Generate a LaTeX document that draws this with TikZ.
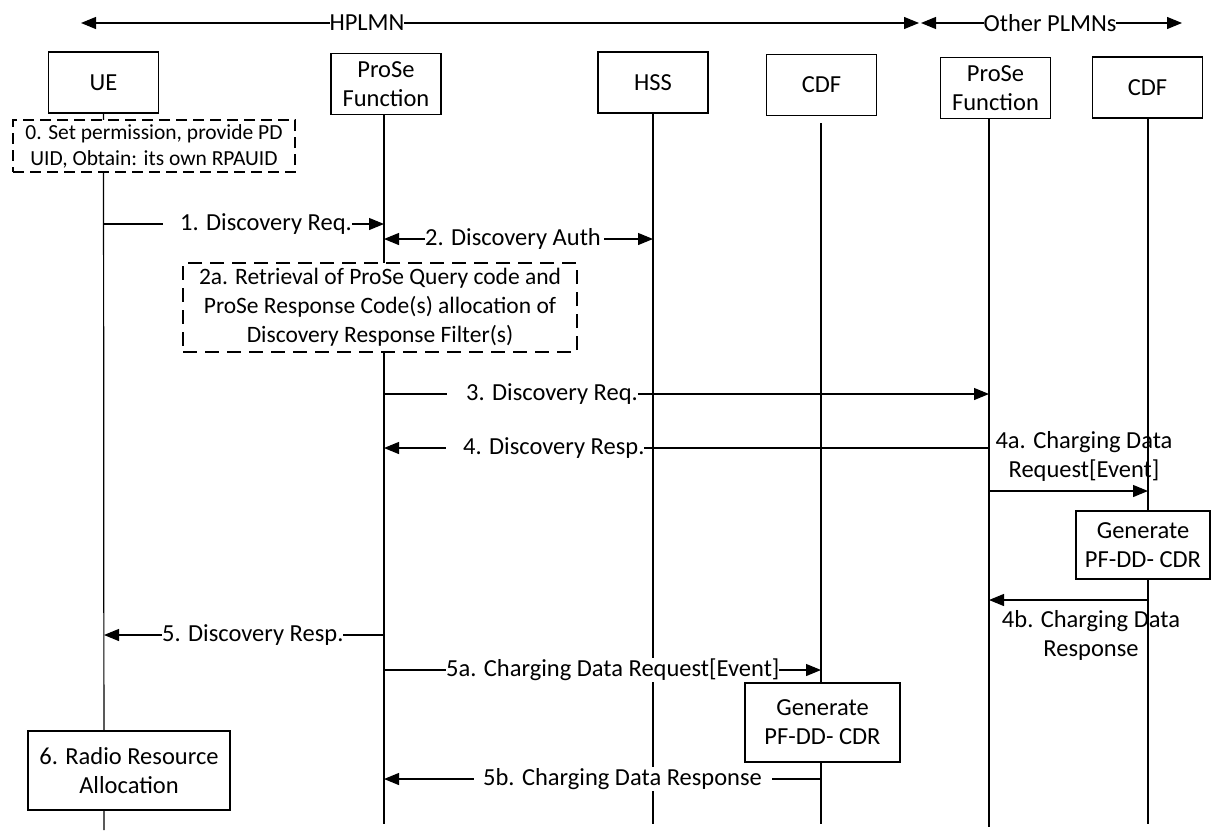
\documentclass[tikz,border=0pt]{standalone}
\usepackage{fontspec}
\setmainfont{Carlito}
\usetikzlibrary{arrows.meta}
\begin{document}
\begin{tikzpicture}[x=1pt,y=-1pt,
  every node/.style={font=\fontsize{24.5}{29}\selectfont},
  tip/.tip={Triangle[length=15pt,width=12pt]},
  actor/.style={draw, line width=1.3pt, minimum width=110pt, minimum height=61pt, align=center, inner sep=0pt, fill=white},
  procbox/.style={draw, line width=1.3pt, align=center, inner sep=0pt, fill=white},
  notebox/.style={draw, line width=1.3pt, dash pattern=on 14pt off 8pt, align=center, inner sep=0pt, fill=white},
  life/.style={line width=1.2pt},
  msg/.style={line width=1.2pt, -tip},
  dmsg/.style={line width=1.2pt, tip-tip},
  lbl/.style={fill=white, inner xsep=0pt, inner ysep=1pt},
  free/.style={align=center, inner sep=0pt}
]
\useasboundingbox (0,0) rectangle (1212,830);

% header
\coordinate (hL) at (81,23);
\coordinate (hR) at (919,23);
\coordinate (oL) at (921,23);
\coordinate (oR) at (1182,23);
\draw[dmsg] (hL) -- (hR);
\draw[dmsg] (oL) -- (oR);
\node[lbl] (hplmn) at (367,23) {HPLMN};
\node[lbl] (oplmn) at (1050,23) {Other PLMNs};

% lifeline ends
\coordinate (ueB) at (104,830);
\coordinate (pfB) at (384,824);
\coordinate (hssB) at (653,824);
\coordinate (cdfaT) at (821,123);
\coordinate (cdfaB) at (821,824);
\coordinate (pfbB) at (989,827);
\coordinate (cdfbB) at (1148,824);

% actors
\node[actor] (ue) at (103.5,82.5) {UE};
\node[actor] (pf) at (386,84) {ProSe\\Function};
\node[actor] (hss) at (653,82.5) {HSS};
\node[actor] (cdfa) at (821.5,85) {CDF};
\node[actor] (pfb) at (995.5,88) {ProSe\\Function};
\node[actor] (cdfb) at (1147.5,87.5) {CDF};

% lifelines
\draw[life] (ue.south) -- (ueB);
\draw[life] (pf.south -| pfB) -- (pfB);
\draw[life] (hss.south) -- (hssB);
\draw[life] (cdfaT) -- (cdfaB);
\draw[life] (pfb.south -| pfbB) -- (pfbB);
\draw[life] (cdfb.south -| cdfbB) -- (cdfbB);

% notes and process boxes
\node[notebox, dash pattern=on 11pt off 6pt, minimum width=282pt, minimum height=52pt,
      font=\fontsize{21.5}{26}\selectfont] (n0) at (154,146)
  {0. Set permission, provide PD\\UID, Obtain: its own RPAUID};
\node[notebox, minimum width=394pt, minimum height=89pt,
      font=\fontsize{23.5}{29}\selectfont] (n2a) at (380,307.5)
  {2a. Retrieval of ProSe Query code and\\ProSe Response Code(s) allocation of\\Discovery Response Filter(s)};
\node[procbox, minimum width=134pt, minimum height=68pt] (genb) at (1143,545)
  {Generate\\PF-DD- CDR};
\node[procbox, minimum width=155pt, minimum height=79pt] (gena) at (822.5,722.5)
  {Generate\\PF-DD- CDR};
\node[procbox, minimum width=202pt, minimum height=79pt] (radio) at (129,770.5)
  {6. Radio Resource\\Allocation};

% message rows
\coordinate (r1) at (0,224);
\coordinate (r2) at (0,239);
\coordinate (r3) at (0,394);
\coordinate (r4) at (0,448);
\coordinate (r4a) at (0,491);
\coordinate (r4b) at (0,600);
\coordinate (r5) at (0,635);
\coordinate (r5a) at (0,670);
\coordinate (r5b) at (0,779);

% messages
\draw[msg] (ueB |- r1) -- (pfB |- r1);
\draw[dmsg] (pfB |- r2) -- (hssB |- r2);
\draw[msg] (pfB |- r3) -- (pfbB |- r3);
\draw[msg] (pfbB |- r4) -- (pfB |- r4);
\draw[msg] (pfbB |- r4a) -- (cdfbB |- r4a);
\draw[msg] (cdfbB |- r4b) -- (pfbB |- r4b);
\draw[msg] (pfB |- r5) -- (ueB |- r5);
\draw[msg] (pfB |- r5a) -- (cdfaB |- r5a);
\draw[msg] (cdfaB |- r5b) -- (pfB |- r5b);

% labels
\node[lbl, anchor=west] (l1) at (163,224) {\hspace*{17pt}1. Discovery Req.};
\node[lbl, anchor=west] (l2) at (425,239) {2. Discovery Auth\hspace*{3pt}};
\node[lbl, anchor=west] (l3) at (447,394) {\hspace*{19pt}3. Discovery Req.};
\node[lbl, anchor=west] (l4) at (446,448) {\hspace*{17pt}4. Discovery Resp.};
\node[free] (l4a) at (1084,456) {4a. Charging Data\\Request[Event]};
\node[free] (l4b) at (1091,635) {4b. Charging Data\\Response};
\node[lbl, anchor=west] (l5) at (162,635) {5. Discovery Resp.};
\node[lbl, anchor=west] (l5a) at (446,670) {5a. Charging Data Request[Event]};
\node[lbl, anchor=west] (l5b) at (474,779) {\hspace*{9pt}5b. Charging Data Response\hspace*{10pt}};
\end{tikzpicture}
\end{document}
